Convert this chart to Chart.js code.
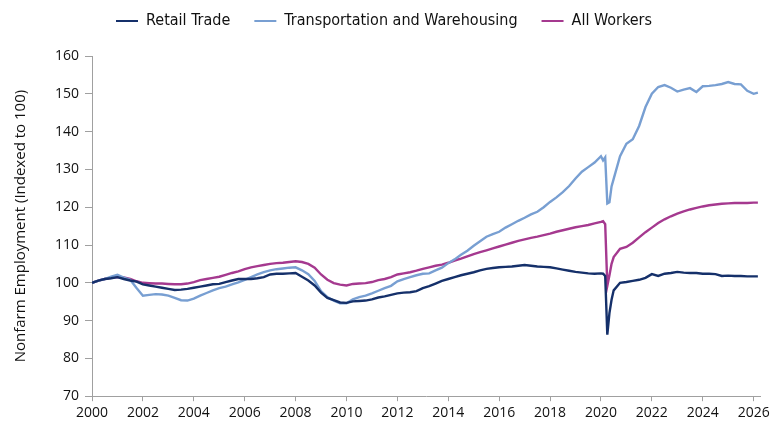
<!DOCTYPE html>
<html>
<head>
<meta charset="utf-8">
<script src="https://cdn.jsdelivr.net/npm/chart.js@4.4.1/dist/chart.umd.min.js"></script>
<style>
  html, body { margin: 0; padding: 0; background: #fff; }
  #wrap { width: 780px; height: 440px; }
</style>
</head>
<body>
<div id="wrap"><canvas id="emp-chart"></canvas></div>
<script>
// sample months (quarterly, monthly around the 2020 shock)
const months = [
  '2000-01','2000-04','2000-07','2000-10',
  '2001-01','2001-04','2001-07','2001-10',
  '2002-01','2002-04','2002-07','2002-10',
  '2003-01','2003-04','2003-07','2003-10',
  '2004-01','2004-04','2004-07','2004-10',
  '2005-01','2005-04','2005-07','2005-10',
  '2006-01','2006-04','2006-07','2006-10',
  '2007-01','2007-04','2007-07','2007-10',
  '2008-01','2008-04','2008-07','2008-10',
  '2009-01','2009-04','2009-07','2009-10',
  '2010-01','2010-04','2010-07','2010-10',
  '2011-01','2011-04','2011-07','2011-10',
  '2012-01','2012-04','2012-07','2012-10',
  '2013-01','2013-04','2013-07','2013-10',
  '2014-01','2014-04','2014-07','2014-10',
  '2015-01','2015-04','2015-07','2015-10',
  '2016-01','2016-04','2016-07','2016-10',
  '2017-01','2017-04','2017-07','2017-10',
  '2018-01','2018-04','2018-07','2018-10',
  '2019-01','2019-04','2019-07','2019-10',
  '2020-01','2020-02','2020-03','2020-04','2020-05','2020-06','2020-07','2020-10',
  '2021-01','2021-04','2021-07','2021-10',
  '2022-01','2022-04','2022-07','2022-10',
  '2023-01','2023-04','2023-07','2023-10',
  '2024-01','2024-04','2024-07','2024-10',
  '2025-01','2025-04','2025-07','2025-10',
  '2026-01','2026-03'
];

const retailTrade = [
  100.0, 100.6, 101.0, 101.2,
  101.5, 101.0, 100.6, 100.3,
  99.6, 99.3, 99.0, 98.7,
  98.4, 98.1, 98.2, 98.4,
  98.7, 99.0, 99.3, 99.6,
  99.7, 100.2, 100.6, 101.0,
  101.0, 101.0, 101.2, 101.5,
  102.2, 102.4, 102.4, 102.5,
  102.6, 101.6, 100.6, 99.3,
  97.4, 96.0, 95.4, 94.8,
  94.7, 95.1, 95.2, 95.3,
  95.6, 96.1, 96.4, 96.8,
  97.2, 97.4, 97.5, 97.8,
  98.6, 99.1, 99.8, 100.5,
  101.0, 101.5, 102.0, 102.4,
  102.8, 103.3, 103.7, 103.9,
  104.1, 104.2, 104.3, 104.5,
  104.7, 104.5, 104.3, 104.2,
  104.1, 103.8, 103.5, 103.2,
  102.9, 102.7, 102.5, 102.4,
  102.5, 102.4, 101.8, 86.3, 92.0, 95.5, 98.0, 100.0,
  100.2, 100.5, 100.8, 101.3,
  102.3, 101.8, 102.4, 102.6,
  102.9, 102.7, 102.6, 102.6,
  102.4, 102.4, 102.3, 101.8,
  101.9, 101.8, 101.8, 101.7,
  101.7, 101.7
];

const transportWarehousing = [
  100.0, 100.6, 101.0, 101.6,
  102.1, 101.4, 100.8, 98.6,
  96.6, 96.8, 97.0, 96.9,
  96.6, 96.0, 95.4, 95.3,
  95.8, 96.6, 97.3, 98.0,
  98.6, 99.0, 99.6, 100.1,
  100.8, 101.5, 102.2, 102.8,
  103.3, 103.6, 103.8, 104.0,
  104.1, 103.3, 102.3, 100.5,
  97.8, 96.2, 95.3, 94.6,
  94.6, 95.6, 96.2, 96.6,
  97.2, 97.9, 98.6, 99.2,
  100.4, 101.0, 101.5, 102.0,
  102.4, 102.5, 103.3, 104.0,
  105.2, 106.2, 107.4, 108.5,
  109.8, 111.0, 112.2, 112.9,
  113.5, 114.6, 115.5, 116.4,
  117.2, 118.1, 118.8, 120.0,
  121.4, 122.6, 124.0, 125.6,
  127.6, 129.4, 130.6, 131.8,
  133.5, 132.4, 133.2, 121.0, 121.3, 125.5, 127.5, 133.5,
  136.8, 138.0, 141.5, 146.5,
  150.0, 151.8, 152.3, 151.6,
  150.6, 151.1, 151.5, 150.5,
  152.0, 152.1, 152.3, 152.6,
  153.1, 152.6, 152.5, 150.8,
  150.0, 150.3
];

const allWorkers = [
  100.0, 100.6, 101.0, 101.3,
  101.5, 101.4, 101.0, 100.4,
  100.0, 99.9, 99.8, 99.8,
  99.7, 99.6, 99.6, 99.8,
  100.2, 100.7, 101.0, 101.3,
  101.6, 102.1, 102.6, 103.0,
  103.6, 104.1, 104.4, 104.7,
  105.0, 105.2, 105.3, 105.5,
  105.7, 105.5, 105.0, 104.0,
  102.2, 100.8, 99.9, 99.5,
  99.3, 99.7, 99.8, 99.9,
  100.2, 100.7, 101.0, 101.5,
  102.2, 102.5, 102.8, 103.2,
  103.7, 104.1, 104.5, 104.8,
  105.3, 105.9, 106.4, 107.0,
  107.6, 108.1, 108.6, 109.1,
  109.6, 110.1, 110.6, 111.1,
  111.5, 111.9, 112.2, 112.6,
  113.0, 113.5, 113.9, 114.3,
  114.7, 115.0, 115.3, 115.7,
  116.1, 116.3, 115.5, 99.2, 102.0, 105.0, 106.8, 109.0,
  109.5, 110.6, 112.0, 113.4,
  114.6, 115.8, 116.8, 117.6,
  118.3, 118.9, 119.4, 119.8,
  120.2, 120.5, 120.7, 120.9,
  121.0, 121.1, 121.1, 121.1,
  121.2, 121.2
];

const seriesNames  = ['Retail Trade', 'Transportation and Warehousing', 'All Workers'];
const seriesColors = ['#15306a', '#789fd2', '#a5398f'];
const yTitle = 'Nonfarm Employment (Indexed to 100)';

function toYear(m) {
  const [y, mo] = m.split('-').map(Number);
  return y + (mo - 1) / 12;
}

function _points(vals) {
  return vals.map((v, i) => ({ x: toYear(months[i]), y: v }));
}

const FONT  = '"Open Sans", Lato, sans-serif';
const LFONT = '"Liberation Sans Narrow", "DejaVu Sans Condensed", Lato, sans-serif';
const AXIS  = '#a0a0a0';

// extra room under the legend
const legendGap = {
  id: 'legendGap',
  beforeInit(chart) {
    const fit = chart.legend.fit;
    chart.legend.fit = function () {
      fit.call(this);
      this.height += 17;
    };
  }
};

new Chart(document.getElementById('emp-chart'), {
  type: 'line',
  data: {
    datasets: [retailTrade, transportWarehousing, allWorkers].map((vals, i) => ({
      label: seriesNames[i],
      data: _points(vals),
      borderColor: seriesColors[i],
      backgroundColor: seriesColors[i],
      borderWidth: 2.4,
      pointRadius: 0,
      tension: 0,
    }))
  },
  options: {
    responsive: true, maintainAspectRatio: false,
    animation: false,
    layout: { padding: { left: 8, right: 20, top: -11, bottom: 16 } },
    plugins: {
      legend: {
        position: 'top',
        labels: {
          color: '#111',
          font: { family: LFONT, size: 16 },
          boxWidth: 22, boxHeight: 2,
          padding: 24,
          generateLabels: chart => chart.data.datasets.map((d, i) => ({
            text: d.label, fillStyle: d.borderColor, strokeStyle: d.borderColor,
            lineWidth: 0, datasetIndex: i, hidden: false, fontColor: '#111'
          }))
        }
      },
      tooltip: { enabled: false }
    },
    scales: {
      x: {
        type: 'linear', min: 2000, max: 2026.25,
        ticks: { stepSize: 2, includeBounds: false, color: '#111', font: { family: FONT, size: 14 }, callback: v => String(v), maxRotation: 0 },
        grid: { drawOnChartArea: false, drawTicks: true, tickLength: 5, color: AXIS },
        border: { color: AXIS }
      },
      y: {
        min: 70, max: 160,
        ticks: { stepSize: 10, color: '#111', font: { family: FONT, size: 14 }, padding: 6 },
        grid: { drawOnChartArea: false, drawTicks: true, tickLength: 7, color: AXIS },
        border: { color: AXIS },
        title: { display: true, text: yTitle, color: '#111', font: { family: FONT, size: 15 }, padding: { bottom: 19 } }
      }
    }
  },
  plugins: [legendGap]
});
</script>
</body>
</html>
